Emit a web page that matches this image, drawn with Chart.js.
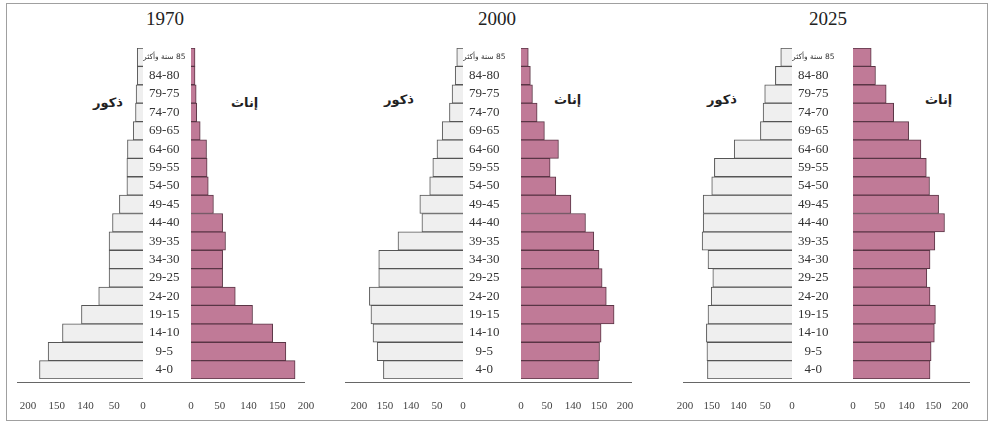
<!DOCTYPE html>
<html>
<head>
<meta charset="utf-8">
<script src="https://cdn.jsdelivr.net/npm/chart.js@4.4.1/dist/chart.umd.min.js"></script>
<style>
  body { margin: 0; background: #fff; }
  #wrap { position: relative; width: 990px; height: 424px; overflow: hidden; }
  #frame { position: absolute; left: 6px; top: 3px; width: 980px; height: 416px; border: 1px solid #a0a0a0; }
  canvas { position: absolute; top: 40px; }
  .title { position: absolute; top: 8px; width: 80px; text-align: center; font: 19px "Liberation Serif", serif; color: #222; }
  .sex { position: absolute; font: bold 13px "DejaVu Sans", sans-serif; color: #222; direction: rtl; }
  .base { position: absolute; top: 382px; height: 1px; background: #666; }
</style>
</head>
<body>
<div id="wrap">
  <div id="frame"></div>
</div>
<script>
// age groups, youngest first
const ageGroups = ['4-0', '9-5', '14-10', '19-15', '24-20', '29-25', '34-30', '39-35', '44-40',
  '49-45', '54-50', '59-55', '64-60', '69-65', '74-70', '79-75', '84-80', '\u200F85 سنة وأكثر'];
const tickValues = [0, 50, 100, 150, 200];
const tickLabels = ['0', '50', '140', '150', '200'];

const males1970 = [180, 165, 140, 107, 77, 59, 59, 59, 53, 41, 28, 28, 27, 17, 13, 12, 10, 10];
const females1970 = [181, 165, 142, 107, 77, 55, 55, 60, 55, 39, 30, 28, 27, 16, 10, 9, 7, 7];
const males2000 = [153, 165, 173, 177, 180, 162, 162, 125, 79, 83, 64, 58, 50, 40, 26, 21, 15, 12];
const females2000 = [149, 151, 154, 179, 164, 156, 150, 140, 124, 96, 67, 56, 72, 45, 31, 22, 18, 14];
const males2025 = [158, 159, 160, 157, 151, 148, 157, 168, 166, 166, 150, 145, 108, 59, 54, 51, 31, 21];
const females2025 = [144, 146, 152, 154, 144, 138, 144, 153, 171, 160, 143, 137, 127, 104, 76, 62, 42, 34];

const maleLabel = 'ذكور';
const femaleLabel = 'إناث';

// layout of each pyramid: zero lines and pixel length of 200 units
const panels = [
  { year: '1970', males: males1970, females: females1970, mZero: 143, fZero: 191, len: 115,
    titleX: 165, mTextX: 93, fTextX: 231, textY: 95, line: [17, 305] },
  { year: '2000', males: males2000, females: females2000, mZero: 463, fZero: 521, len: 104,
    titleX: 497, mTextX: 384, fTextX: 554, textY: 92, line: [345, 632] },
  { year: '2025', males: males2025, females: females2025, mZero: 792, fZero: 853, len: 107,
    titleX: 828, mTextX: 707, fTextX: 925, textY: 92, line: [683, 970] }
];

const wrap = document.getElementById('wrap');
const H = 380;

function addDiv(cls, css, text) {
  const d = document.createElement('div');
  d.className = cls;
  Object.assign(d.style, css);
  if (text) d.textContent = text;
  wrap.appendChild(d);
}

function addCanvas(left, width) {
  const c = document.createElement('canvas');
  c.width = width;
  c.height = H;
  c.style.left = left + 'px';
  wrap.appendChild(c);
  return c;
}

function xScale(reverse) {
  return {
    type: 'linear', min: 0, max: 200, reverse: reverse,
    grid: { display: false, drawTicks: true, tickLength: 21 },
    border: { display: false },
    ticks: {
      stepSize: 50, padding: 0, color: '#444',
      font: { family: 'Liberation Serif', size: 11 },
      callback: v => tickLabels[tickValues.indexOf(v)]
    },
    afterFit: s => { s.height = 36; }
  };
}

panels.forEach(p => {
  addDiv('title', { left: (p.titleX - 40) + 'px' }, p.year);
  addDiv('sex', { left: p.mTextX + 'px', top: p.textY + 'px' }, maleLabel);
  addDiv('sex', { left: p.fTextX + 'px', top: p.textY + 'px' }, femaleLabel);
  addDiv('base', { left: p.line[0] + 'px', width: (p.line[1] - p.line[0]) + 'px' });

  const col = p.fZero - p.mZero;
  const padL = 16;
  const mCanvas = addCanvas(p.mZero - p.len - padL, p.len + padL + col);
  new Chart(mCanvas, {
    type: 'bar',
    data: {
      labels: ageGroups,
      datasets: [{
        label: maleLabel, data: p.males,
        backgroundColor: '#efefef', borderColor: '#555', borderWidth: 1,
        barPercentage: 1, categoryPercentage: 1
      }]
    },
    options: {
      indexAxis: 'y', responsive: false, animation: false, devicePixelRatio: 1,
      layout: { padding: { left: padL, right: 0, top: 8, bottom: 5 } },
      plugins: { legend: { display: false }, tooltip: { enabled: false } },
      scales: {
        x: xScale(true),
        y: {
          position: 'right', reverse: true,
          grid: { display: false, drawTicks: false },
          border: { display: false },
          ticks: {
            padding: 0, crossAlign: 'center', color: '#333', autoSkip: false,
            font: ctx => ctx.index === ageGroups.length - 1
              ? { family: 'DejaVu Sans', size: 7.5 }
              : { family: 'Liberation Serif', size: 13 }
          },
          afterFit: s => { s.width = col; }
        }
      }
    }
  });

  const padF = 8, padR = 16;
  const fCanvas = addCanvas(p.fZero - padF, p.len + padF + padR);
  new Chart(fCanvas, {
    type: 'bar',
    data: {
      labels: ageGroups,
      datasets: [{
        label: femaleLabel, data: p.females,
        backgroundColor: '#c07a97', borderColor: '#5a3545', borderWidth: 1,
        barPercentage: 1, categoryPercentage: 1
      }]
    },
    options: {
      indexAxis: 'y', responsive: false, animation: false, devicePixelRatio: 1,
      layout: { padding: { left: padF, right: padR, top: 8, bottom: 5 } },
      plugins: { legend: { display: false }, tooltip: { enabled: false } },
      scales: {
        x: xScale(false),
        y: { display: false, reverse: true }
      }
    }
  });
});
</script>
</body>
</html>
